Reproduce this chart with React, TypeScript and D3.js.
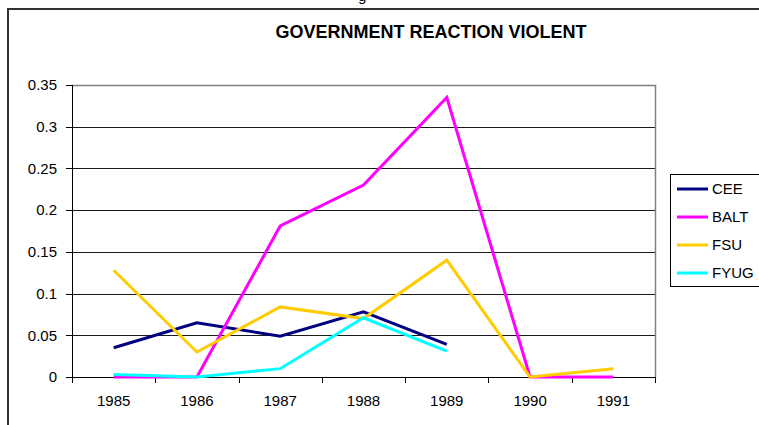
import React from 'react';
import * as d3 from 'd3';

const years = ['1985', '1986', '1987', '1988', '1989', '1990', '1991'];
const cee = [0.035, 0.065, 0.049, 0.078, 0.039, null, null];
const balt = [0, 0, 0.181, 0.23, 0.335, 0, 0];
const fsu = [0.128, 0.03, 0.084, 0.07, 0.14, 0, 0.01];
const fyug = [0.003, 0, 0.01, 0.071, 0.031, null, null];
const yTicks = [0, 0.05, 0.1, 0.15, 0.2, 0.25, 0.3, 0.35];

const series = [
  { name: 'CEE', values: cee, color: '#000080' },
  { name: 'BALT', values: balt, color: '#FF00FF' },
  { name: 'FSU', values: fsu, color: '#FFCC00' },
  { name: 'FYUG', values: fyug, color: '#00FFFF' },
];

const W = 759,
  H = 425;
const plot = { left: 72, right: 655, top: 85, bottom: 377 };
const font = 'Liberation Sans, Arial, sans-serif';

const App = () => {
  const x = d3.scaleBand().domain(years).range([plot.left, plot.right]).padding(0);
  const y = d3.scaleLinear().domain([0, 0.35]).range([plot.bottom, plot.top]);

  const line = d3
    .line<number | null>()
    .defined((d) => d !== null)
    .x((d, i) => x(years[i])! + x.bandwidth() / 2)
    .y((d) => y(d as number));

  // tick positions at category boundaries
  const bounds = years.map((yr) => x(yr)!).concat([plot.right]);

  return (
    <svg width={W} height={H} style={{ position: 'absolute', left: 0, top: 0 }}>
      <rect width={W} height={H} fill="#fff" />
      {/* cut-off caption above the frame */}
      <text x={358} y={1} fontFamily={font} fontSize={15} fill="#000">
        g
      </text>
      {/* outer chart frame */}
      <rect x={8} y={9} width={800} height={500} fill="none" stroke="#333" strokeWidth={2} />

      <text
        x={431}
        y={38}
        textAnchor="middle"
        fontFamily={font}
        fontSize={18}
        fontWeight="bold"
        fill="#000">
        GOVERNMENT REACTION VIOLENT
      </text>

      {/* gridlines */}
      {yTicks.slice(1, -1).map((t) => (
        <line
          key={t}
          x1={plot.left}
          x2={plot.right}
          y1={Math.round(y(t)) + 0.5}
          y2={Math.round(y(t)) + 0.5}
          stroke="#1a1a1a"
          strokeWidth={1}
        />
      ))}
      {/* plot area border (top / right) */}
      <path
        d={`M${plot.left},${plot.top + 0.5}H${plot.right + 0.5}V${plot.bottom}`}
        fill="none"
        stroke="#808080"
        strokeWidth={1.5}
      />

      {/* y axis */}
      <line x1={plot.left + 0.5} x2={plot.left + 0.5} y1={plot.top} y2={plot.bottom + 6} stroke="#000" />
      {yTicks.map((t) => (
        <g key={t}>
          <line
            x1={plot.left - 6}
            x2={plot.left}
            y1={Math.round(y(t)) + 0.5}
            y2={Math.round(y(t)) + 0.5}
            stroke="#000"
          />
          <text
            x={57}
            y={y(t)}
            dy="0.35em"
            textAnchor="end"
            fontFamily={font}
            fontSize={15}
            fill="#000">
            {t}
          </text>
        </g>
      ))}

      {/* x axis */}
      <line x1={plot.left} x2={plot.right} y1={plot.bottom + 0.5} y2={plot.bottom + 0.5} stroke="#000" />
      {bounds.map((b, i) => (
        <line
          key={i}
          x1={Math.round(b) + 0.5}
          x2={Math.round(b) + 0.5}
          y1={plot.bottom}
          y2={plot.bottom + 6}
          stroke="#000"
        />
      ))}
      {years.map((yr) => (
        <text
          key={yr}
          x={x(yr)! + x.bandwidth() / 2}
          y={406}
          textAnchor="middle"
          fontFamily={font}
          fontSize={15}
          fill="#000">
          {yr}
        </text>
      ))}

      {/* series */}
      {series.map((s) => (
        <path
          key={s.name}
          d={line(s.values) || ''}
          fill="none"
          stroke={s.color}
          strokeWidth={3}
          strokeLinejoin="miter"
        />
      ))}

      {/* legend */}
      <rect x={670.5} y={174.5} width={100} height={112} fill="#fff" stroke="#000" strokeWidth={1} />
      {series.map((s, i) => {
        const ly = 189 + i * 28;
        return (
          <g key={s.name}>
            <line x1={677} x2={708} y1={ly} y2={ly} stroke={s.color} strokeWidth={3} />
            <text x={712} y={ly} dy="0.35em" fontFamily={font} fontSize={15} fill="#000">
              {s.name}
            </text>
          </g>
        );
      })}
    </svg>
  );
};

export default App;
